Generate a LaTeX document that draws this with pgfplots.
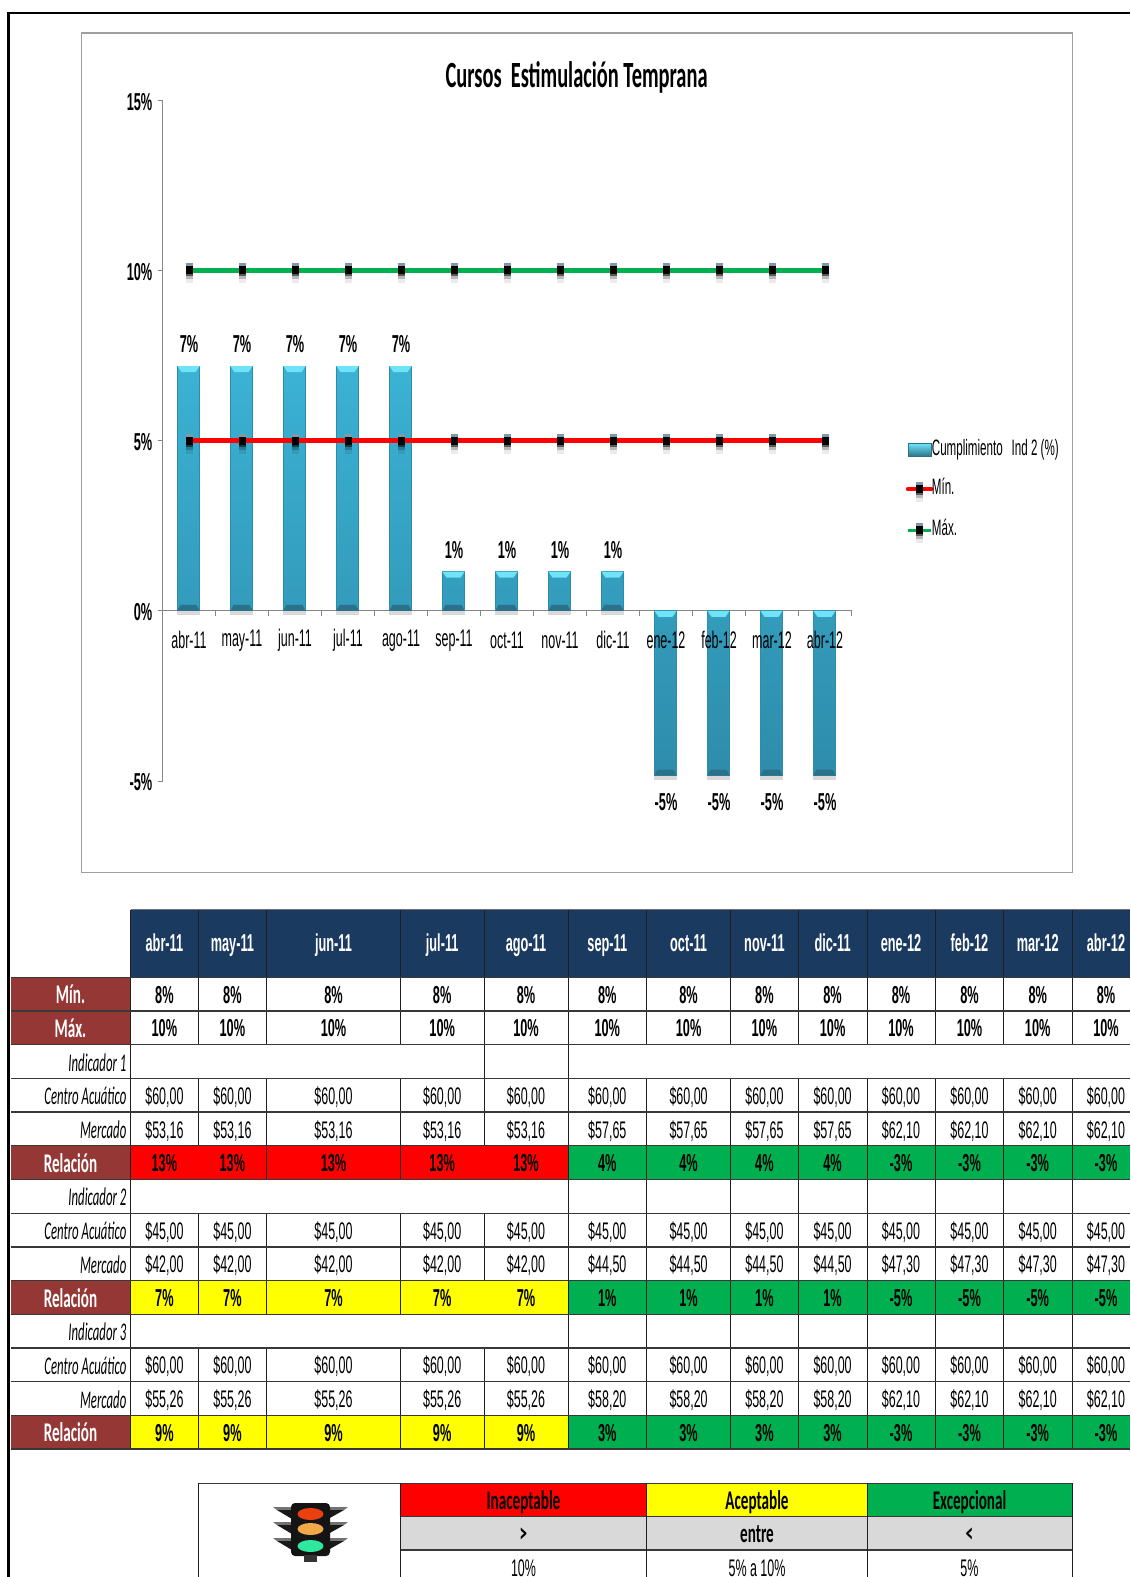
\documentclass[border=0pt]{standalone}
\usepackage{pgfplots}
\usepackage{pgfplotstable}
\pgfplotsset{compat=1.18}
\usepackage{fontspec}
\setmainfont[FakeStretch=0.52]{Liberation Sans}
\newfontfamily\calib[FakeStretch=0.56]{Carlito}
\newfontfamily\calibi[FakeStretch=0.5]{Carlito}
\newcommand\fr{\fontsize{24pt}{26pt}\selectfont}
\newcommand\fleg{\fontsize{22.3pt}{26pt}\selectfont}
\newcommand\fb{\fontsize{24.5pt}{26pt}\selectfont\bfseries}
\newcommand\fl{\calib\fontsize{27pt}{29pt}\selectfont\bfseries}
\newcommand\ft{\calibi\fontsize{25.5pt}{28pt}\selectfont\itshape}
\definecolor{navy}{HTML}{1A3A5F}
\definecolor{maroon}{HTML}{953735}
\definecolor{xred}{HTML}{FF0000}
\definecolor{xgreen}{HTML}{00B050}
\definecolor{xyellow}{HTML}{FFFF00}
\definecolor{xgrey}{HTML}{D9D9D9}
\definecolor{axgrey}{HTML}{868686}
\definecolor{bartop}{HTML}{3BB2D4}
\definecolor{barbot}{HTML}{2E8CAB}
\definecolor{lcyan}{HTML}{6FE3F7}
\definecolor{ldark}{HTML}{2A7189}
\definecolor{mkd}{HTML}{7F9AA5}
\definecolor{tlr}{RGB}{232,64,15}
\definecolor{tlo}{RGB}{240,168,72}
\definecolor{tlg}{RGB}{47,232,160}
\pgfdeclareplotmark{xlmark}{%
  \pgfsetfillcolor{black}
  \pgfsetfillopacity{0.08}\pgfpathrectangle{\pgfpoint{-3.5pt}{-13pt}}{\pgfpoint{7pt}{4pt}}\pgfusepathqfill
  \pgfsetfillopacity{0.28}\pgfpathrectangle{\pgfpoint{-3.5pt}{-9pt}}{\pgfpoint{7pt}{3pt}}\pgfusepathqfill
  \pgfsetfillopacity{0.65}\pgfpathrectangle{\pgfpoint{-3.5pt}{-6pt}}{\pgfpoint{7pt}{2pt}}\pgfusepathqfill
  \pgfsetfillopacity{1}
  \pgfsetfillcolor{mkd}\pgfpathrectangle{\pgfpoint{-3.5pt}{4pt}}{\pgfpoint{7pt}{3pt}}\pgfusepathqfill
  \pgfsetfillcolor{black}\pgfpathrectangle{\pgfpoint{-3.5pt}{-4pt}}{\pgfpoint{7pt}{8pt}}\pgfusepathqfill
}
\pgfdeclareplotmark{bevtop}{%
  \pgfsetfillcolor{lcyan}
  \pgfpathmoveto{\pgfpoint{-11.1pt}{0pt}}\pgfpathlineto{\pgfpoint{11.1pt}{0pt}}
  \pgfpathlineto{\pgfpoint{7pt}{-6pt}}\pgfpathlineto{\pgfpoint{-7pt}{-6pt}}\pgfpathclose\pgfusepathqfill
}
\pgfdeclareplotmark{bevbot}{%
  \pgfsetfillcolor{black}\pgfsetfillopacity{0.15}
  \pgfpathrectangle{\pgfpoint{-11.1pt}{-4pt}}{\pgfpoint{22.2pt}{4pt}}\pgfusepathqfill
  \pgfsetfillopacity{1}
  \pgfsetfillcolor{ldark}
  \pgfpathmoveto{\pgfpoint{-11.1pt}{0pt}}\pgfpathlineto{\pgfpoint{11.1pt}{0pt}}
  \pgfpathlineto{\pgfpoint{8pt}{6pt}}\pgfpathlineto{\pgfpoint{-8pt}{6pt}}\pgfpathclose\pgfusepathqfill
}
\pgfplotstableread{
x  y     lab
0  7.19  7\%
1  7.19  7\%
2  7.19  7\%
3  7.19  7\%
4  7.19  7\%
5  1.15  1\%
6  1.15  1\%
7  1.15  1\%
8  1.15  1\%
9  -4.84 -5\%
10 -4.84 -5\%
11 -4.84 -5\%
12 -4.84 -5\%
}\bars
\pgfplotstableread{
x  top  bot
0  7.19 0
1  7.19 0
2  7.19 0
3  7.19 0
4  7.19 0
5  1.15 0
6  1.15 0
7  1.15 0
8  1.15 0
9  0 -4.84
10 0 -4.84
11 0 -4.84
12 0 -4.84
}\bevels
\pgfplotstableread{
x  mn  mx
0  5 10
1  5 10
2  5 10
3  5 10
4  5 10
5  5 10
6  5 10
7  5 10
8  5 10
9  5 10
10 5 10
11 5 10
12 5 10
}\limitstab
% column helpers
\newcommand\grp[5]{% y, font, v1, v2, v3
  \foreach \x in {164.4,232.4,333.5,442.2,526} \node[anchor=base,inner sep=0,yshift=-9pt,font=#2] at (\x,#1) {#3};
  \foreach \x in {607.3,688.6,764.4,832.6} \node[anchor=base,inner sep=0,yshift=-9pt,font=#2] at (\x,#1) {#4};
  \foreach \x in {901,969.5,1037.7,1106} \node[anchor=base,inner sep=0,yshift=-9pt,font=#2] at (\x,#1) {#5};
}
\newcommand\rl[2]{\node[anchor=base east,inner sep=0,yshift=-9.5pt,font=\ft] at (126.5,#1) {#2};}
\newcommand\lab[2]{\node[anchor=base,inner sep=0,yshift=-9.5pt,font=\fl,text=white] at (70.5,#1) {#2};}
\newcommand\vl[3]{\edef\vlist{#3}\foreach \x in \vlist \draw[line width=1pt,color=black!88] (\x,#1) -- (\x,#2);}
\def\allv{130.5,198.2,266.7,400.4,484,568,646.7,730.6,798.5,867,935.5,1003.5,1072.2}
\begin{document}
\begin{tikzpicture}
\path[use as bounding box] (0,0) rectangle (1130pt,-1577pt);
\clip (0,0) rectangle (1130pt,-1577pt);
\fill[white] (0,0) rectangle (1130pt,-1577pt);
\begin{scope}[x=1pt,y=-1pt]
% page frame
\draw[line width=2.6pt,black] (8.3,1577) -- (8.3,12.8) -- (1130,12.8);
% chart frame
\draw[line width=1.2pt,color=black!38] (81.5,33) rectangle (1072.4,872.7);
\node[inner sep=0] at (576.6,77) {\resizebox{262pt}{26pt}{\calib\fontsize{30pt}{34pt}\selectfont\bfseries Cursos\hspace{0.25em}Estimulación Temprana}};
\end{scope}
\begin{axis}[
  at={(162.5pt,-781pt)}, anchor=south west,
  scale only axis, width=689pt, height=680.7pt,
  xmin=-0.5, xmax=12.5, ymin=-5, ymax=15,
  axis x line=middle, axis y line=left,
  axis line style={-,color=axgrey,line width=0.9pt},
  tick align=outside,
  xtick={0,...,12},
  xticklabels={},
  minor xtick={-0.5,0.5,...,12.5},
  ytick={-5,0,5,10,15},
  yticklabels={-5\%,0\%,5\%,10\%,15\%},
  minor ytick={-5,0,5,10,15},
  major tick length=0pt, minor tick length=5pt,
  minor tick style={color=axgrey,line width=0.8pt},
  yticklabel style={font=\fb,anchor=east,xshift=-10pt,yshift=-1.5pt,inner sep=0},
  clip=false,
  legend style={at={(1.0785,0.5021)},anchor=north west,draw=none,fill=none,font=\fleg,inner sep=0pt,
     row sep=18pt,nodes={inner sep=0pt,anchor=west,text height=16pt,text depth=5pt},column sep=-1.5pt},
  legend cell align=left,
]
\addplot[ybar,bar width=22.3pt,bar shift=-0.5pt,top color=bartop,bottom color=barbot,draw=barbot,line width=0.8pt,
   point meta=explicit symbolic,
   visualization depends on={y \as \rawy},
   nodes near coords,
   nodes near coords style={font=\fb,anchor=center,inner sep=0,yshift={\rawy>0?22:-27}},
   legend image code/.code={\draw[top color=lcyan,bottom color=ldark,draw=ldark] (0pt,-6.5pt) rectangle (23pt,6.5pt);}
  ] table[x=x,y=y,meta=lab] {\bars};
\addlegendentry{Cumplimiento\hspace{0.4em}Ind 2 (\%)}
\addplot[forget plot,only marks,mark=bevtop,mark options={xshift=-0.5pt}] table[x=x,y=top] {\bevels};
\addplot[forget plot,only marks,mark=bevbot,mark options={xshift=-0.5pt}] table[x=x,y=bot] {\bevels};
\addplot[xred,line width=5.2pt,mark=xlmark,
   legend image code/.code={\draw[xred,line width=4.6pt,line cap=round] (0pt,0pt)--(23pt,0pt);\begin{scope}[shift={(11.5pt,0pt)}]\pgfuseplotmark{xlmark}\end{scope}}
  ] table[x=x,y=mn] {\limitstab};
\addlegendentry{Mín.}
\addplot[xgreen,line width=4.4pt,mark=xlmark,
   legend image code/.code={\draw[xgreen,line width=3.2pt] (0pt,0pt)--(23pt,0pt);\begin{scope}[shift={(11.5pt,0pt)}]\pgfuseplotmark{xlmark}\end{scope}}
  ] table[x=x,y=mx] {\limitstab};
\addlegendentry{Máx.}
\end{axis}
% the month labels stand over the bars, so they come from a second, empty axis on the same frame
\begin{axis}[
  at={(162.5pt,-781pt)}, anchor=south west,
  scale only axis, width=689pt, height=680.7pt,
  xmin=-0.5, xmax=12.5, ymin=-5, ymax=15,
  axis x line=middle, hide y axis,
  axis line style={draw=none},
  xtick={0,...,12},
  xticklabels={abr-11,may-11,jun-11,jul-11,ago-11,sep-11,oct-11,nov-11,dic-11,ene-12,feb-12,mar-12,abr-12},
  major tick length=0pt,
  xticklabel style={font=\fr,anchor=center,yshift=-29.5pt,inner sep=0},
  clip=false,
]
\end{axis}
\begin{scope}[x=1pt,y=-1pt]
% fills
\fill[navy] (130.5,910) rectangle (1130,977.3);
\fill[maroon] (11,977.3) rectangle (130.5,1044.7);
\foreach \y in {1145.8,1280.6,1415.4} \fill[maroon] (11,\y) rectangle (130.5,\y+33.7);
\fill[xred] (130.5,1145.8) rectangle (568,1179.5);
\fill[xyellow] (130.5,1280.6) rectangle (568,1314.3);
\fill[xyellow] (130.5,1415.4) rectangle (568,1449.1);
\foreach \y in {1145.8,1280.6,1415.4} \fill[xgreen] (568,\y) rectangle (1130,\y+33.7);
% vertical lines
\vl{910}{977.3}{\allv}
\vl{977.3}{1044.7}{\allv}
\vl{1044.7}{1078.4}{130.5,484,568}
\vl{1078.4}{1145.8}{\allv}
\vl{1145.8}{1179.5}{130.5,266.7,400.4,568,646.7,730.6,798.5,867,935.5,1003.5,1072.2}
\vl{1179.5}{1213.2}{130.5,568,646.7,730.6,798.5,867,935.5,1003.5,1072.2}
\vl{1213.2}{1280.6}{\allv}
\vl{1280.6}{1314.3}{130.5,198.2,266.7,400.4,568,646.7,730.6,798.5,867,935.5,1003.5,1072.2}
\vl{1314.3}{1348}{130.5,568,646.7,730.6,798.5,867,935.5,1003.5,1072.2}
\vl{1348}{1449.1}{\allv}
% horizontal lines
\draw[line width=1.2pt,color=black!55] (130.5,909.6) -- (1130,909.6);
\foreach \y in {977.3,1011,1044.7,1078.4,1112.1,1145.8,1179.5,1213.2,1246.9,1280.6,1314.3,1348,1381.7,1415.4,1449.1}
  \draw[line width=1.3pt,color=black!78] (11,\y) -- (1130,\y);
% header text
\foreach \x/\t in {164.4/abr-11,232.4/may-11,333.5/jun-11,442.2/jul-11,526/ago-11,607.3/sep-11,688.6/oct-11,764.4/nov-11,832.6/dic-11,901/ene-12,969.5/feb-12,1037.7/mar-12,1106/abr-12}
  \node[anchor=base,inner sep=0,yshift=-8.5pt,font=\fb,text=white] at (\x,942.5) {\t};
% row labels
\lab{994.2}{Mín.}
\lab{1027.9}{Máx.}
\lab{1162.7}{Relación}
\lab{1297.5}{Relación}
\lab{1432.3}{Relación}
\rl{1061.5}{Indicador 1}
\rl{1095.3}{Centro Acuático}
\rl{1129}{Mercado}
\rl{1196.4}{Indicador 2}
\rl{1230.1}{Centro Acuático}
\rl{1263.8}{Mercado}
\rl{1331.2}{Indicador 3}
\rl{1364.9}{Centro Acuático}
\rl{1398.6}{Mercado}
% values
\grp{994.2}{\fb}{8\%}{8\%}{8\%}
\grp{1027.9}{\fb}{10\%}{10\%}{10\%}
\grp{1095.3}{\fr}{\$60,00}{\$60,00}{\$60,00}
\grp{1129}{\fr}{\$53,16}{\$57,65}{\$62,10}
\grp{1162.7}{\fb}{13\%}{4\%}{-3\%}
\grp{1230.1}{\fr}{\$45,00}{\$45,00}{\$45,00}
\grp{1263.8}{\fr}{\$42,00}{\$44,50}{\$47,30}
\grp{1297.5}{\fb}{7\%}{1\%}{-5\%}
\grp{1364.9}{\fr}{\$60,00}{\$60,00}{\$60,00}
\grp{1398.6}{\fr}{\$55,26}{\$58,20}{\$62,10}
\grp{1432.3}{\fb}{9\%}{3\%}{-3\%}
% key table
\fill[xred] (400.4,1483.3) rectangle (646.7,1516.7);
\fill[xyellow] (646.7,1483.3) rectangle (867,1516.7);
\fill[xgreen] (867,1483.3) rectangle (1072.2,1516.7);
\fill[xgrey] (400.4,1516.7) rectangle (1072.2,1550);
\draw[line width=1.3pt,color=black!78] (198,1483.3) -- (1072.2,1483.3);
\draw[line width=1.3pt,color=black!78] (400.4,1516.7) -- (1072.2,1516.7);
\draw[line width=1.3pt,color=black!78] (400.4,1550) -- (1072.2,1550);
\draw[line width=1pt,color=black!88] (198,1483.3) -- (198,1577);
\draw[line width=1pt,color=black!88] (400.4,1483.3) -- (400.4,1577);
\draw[line width=1pt,color=black!88] (646.7,1483.3) -- (646.7,1577);
\draw[line width=1pt,color=black!88] (867,1483.3) -- (867,1577);
\draw[line width=1pt,color=black!88] (1072.2,1483.3) -- (1072.2,1577);
\foreach \x/\t in {523.5/Inaceptable,757/Aceptable,969.5/Excepcional}
  \node[anchor=base,inner sep=0,yshift=-9pt,font=\fl] at (\x,1500) {\t};
\foreach \x/\t in {523.5/>,757/entre,969.5/<}
  \node[anchor=base,inner sep=0,yshift=-9pt,font=\fl] at (\x,1533.5) {\t};
\foreach \x/\t in {523.5/10\%,757/5\% a 10\%,969.5/5\%}
  \node[anchor=base,inner sep=0,yshift=-9pt,font=\fr] at (\x,1567) {\t};
% traffic light
\foreach \yy in {1507,1522,1538}{
  \fill[black!55] (273,\yy) -- (292,\yy) -- (292,\yy+3) -- (277,\yy+3) -- cycle;
  \fill[black!55] (348,\yy) -- (328,\yy) -- (328,\yy+3) -- (344,\yy+3) -- cycle;
  \fill[black!90] (277,\yy+3) -- (292,\yy+3) -- (292,\yy+12) -- cycle;
  \fill[black!90] (344,\yy+3) -- (328,\yy+3) -- (328,\yy+12) -- cycle;
}
\fill[black!92,rounded corners=4pt] (291,1503) rectangle (330,1556);
\fill[black!80] (304,1555) rectangle (317,1562);
\fill[tlr] (310.5,1514) ellipse (13 and 6);
\fill[tlo] (310.5,1529) ellipse (13 and 6);
\fill[tlg] (310.5,1546) ellipse (13 and 6);
\end{scope}
\end{tikzpicture}
\end{document}
